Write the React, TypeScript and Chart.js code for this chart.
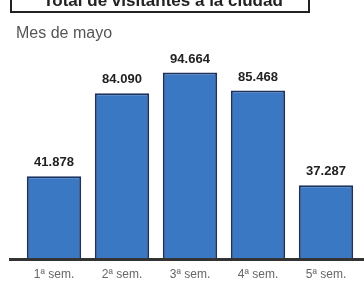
import React, { useEffect, useRef } from "react";
import { Chart, registerables } from "chart.js";

Chart.register(...registerables);

const titleText = "Total de visitantes a la ciudad";
const subtitleText = "Mes de mayo";
const categories = ["1ª sem.", "2ª sem.", "3ª sem.", "4ª sem.", "5ª sem."];
const visitors = [41878, 84090, 94664, 85468, 37287];
const valueLabels = ["41.878", "84.090", "94.664", "85.468", "37.287"];

const decorPlugin = {
  id: "decor",
  afterDraw(chart: any) {
    const ctx = chart.ctx;
    ctx.save();
    // title box
    ctx.strokeStyle = "#222";
    ctx.lineWidth = 2;
    ctx.strokeRect(11, -8, 298, 20);
    ctx.fillStyle = "#222";
    ctx.font = "bold 17px 'Liberation Sans', Arial, sans-serif";
    ctx.textAlign = "center";
    ctx.textBaseline = "alphabetic";
    ctx.fillText(titleText, 163, 6);
    // subtitle
    ctx.fillStyle = "#555";
    ctx.font = "16px 'Liberation Sans', Arial, sans-serif";
    ctx.textAlign = "left";
    ctx.fillText(subtitleText, 16, 38);
    // axis line
    const y0 = chart.scales.y.getPixelForValue(0);
    ctx.strokeStyle = "#333";
    ctx.lineWidth = 3;
    ctx.beginPath();
    ctx.moveTo(9, y0 + 1);
    ctx.lineTo(364, y0 + 1);
    ctx.stroke();
    // value labels
    const meta = chart.getDatasetMeta(0);
    ctx.fillStyle = "#222";
    ctx.font = "bold 13px 'Liberation Sans', Arial, sans-serif";
    ctx.textAlign = "center";
    ctx.textBaseline = "bottom";
    meta.data.forEach((bar: any, i: number) => {
      ctx.fillText(valueLabels[i], bar.x, bar.y - 7);
    });
    ctx.restore();
  },
};

export default function App() {
  const ref = useRef<HTMLCanvasElement>(null);
  useEffect(() => {
    if (!ref.current) return;
    const chart = new Chart(ref.current, {
      type: "bar",
      data: {
        labels: categories,
        datasets: [
          {
            data: visitors,
            backgroundColor: "#3b78c4",
            borderColor: "#1c3360",
            borderWidth: 2,
            barPercentage: 0.8,
            categoryPercentage: 1,
          },
        ],
      },
      options: {
        animation: false,
        responsive: false,
        layout: { padding: { top: 62, left: 20, right: 4, bottom: -10 } },
        plugins: { legend: { display: false }, tooltip: { enabled: false }, title: { display: false } },
        scales: {
          x: {
            grid: { display: false, drawTicks: false },
            border: { display: false },
            ticks: {
              color: "#666",
              padding: 9,
              font: { size: 12, family: "'Liberation Sans', Arial, sans-serif" },
            },
          },
          y: { display: false, min: 0, max: 100000 },
        },
      },
      plugins: [decorPlugin],
    });
    return () => chart.destroy();
  }, []);
  return (
    <div style={{ position: "fixed", left: 0, top: 0, width: 364, height: 281, background: "#fff" }}>
      <canvas ref={ref} width={364} height={281} style={{ width: 364, height: 281 }} />
    </div>
  );
}
